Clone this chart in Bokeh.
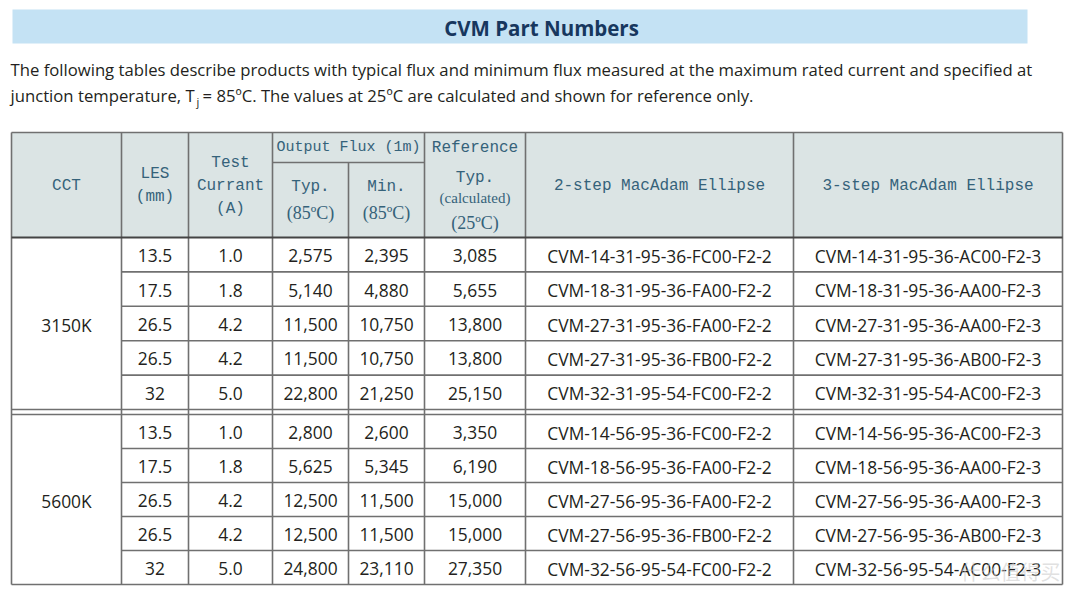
from bokeh.plotting import figure
from bokeh.models import ColumnDataSource
from bokeh.core.properties import value
from bokeh.embed import file_html
from bokeh.resources import INLINE

# ---------------- data ----------------
title = "CVM Part Numbers"
intro_line1 = ("The following tables describe products with typical flux and minimum flux "
               "measured at the maximum rated current and specified at")
intro_line2a = "junction temperature, T"
intro_sub = "j"
intro_line2b = "= 85ºC. The values at 25ºC are calculated and shown for reference only."

cct_groups = ["3150K", "5600K"]
les_mm = ["13.5", "17.5", "26.5", "26.5", "32", "13.5", "17.5", "26.5", "26.5", "32"]
test_current = ["1.0", "1.8", "4.2", "4.2", "5.0", "1.0", "1.8", "4.2", "4.2", "5.0"]
typ_85 = [2575, 5140, 11500, 11500, 22800, 2800, 5625, 12500, 12500, 24800]
min_85 = [2395, 4880, 10750, 10750, 21250, 2600, 5345, 11500, 11500, 23110]
typ_25 = [3085, 5655, 13800, 13800, 25150, 3350, 6190, 15000, 15000, 27350]
part_2step = [
    "CVM-14-31-95-36-FC00-F2-2", "CVM-18-31-95-36-FA00-F2-2", "CVM-27-31-95-36-FA00-F2-2",
    "CVM-27-31-95-36-FB00-F2-2", "CVM-32-31-95-54-FC00-F2-2",
    "CVM-14-56-95-36-FC00-F2-2", "CVM-18-56-95-36-FA00-F2-2", "CVM-27-56-95-36-FA00-F2-2",
    "CVM-27-56-95-36-FB00-F2-2", "CVM-32-56-95-54-FC00-F2-2",
]
part_3step = [
    "CVM-14-31-95-36-AC00-F2-3", "CVM-18-31-95-36-AA00-F2-3", "CVM-27-31-95-36-AA00-F2-3",
    "CVM-27-31-95-36-AB00-F2-3", "CVM-32-31-95-54-AC00-F2-3",
    "CVM-14-56-95-36-AC00-F2-3", "CVM-18-56-95-36-AA00-F2-3", "CVM-27-56-95-36-AA00-F2-3",
    "CVM-27-56-95-36-AB00-F2-3", "CVM-32-56-95-54-AC00-F2-3",
]

# ---------------- layout ----------------
W, H = 1064, 586
p = figure(width=W, height=H, x_range=(0, W), y_range=(H, 0),
           output_backend="svg", toolbar_location=None, min_border=0)
p.axis.visible = False
p.grid.visible = False
p.outline_line_color = None
p.background_fill_color = "white"
p.border_fill_color = "white"

SANS = value("Open Sans")
MONO = value("Liberation Mono")
SERIF = value("Liberation Serif")
HDR_COL = "#35627a"
TXT_COL = "#231f20"

# title band
p.quad(left=[12], right=[1027], top=[9], bottom=[43], fill_color="#c4e2f4", line_color=None)
p.text(x=[541], y=[27], text=[title], text_font=SANS, text_font_style="bold",
       text_font_size="20.5px", text_color="#17375e", text_align="center", text_baseline="middle")

# intro paragraph
p.text(x=[10], y=[69], text=[intro_line1], text_font=SANS, text_font_size="16.7px",
       text_color=TXT_COL, text_align="left", text_baseline="middle")
p.text(x=[10], y=[95], text=[intro_line2a], text_font=SANS, text_font_size="16.7px",
       text_color=TXT_COL, text_align="left", text_baseline="middle")
p.text(x=[196], y=[101], text=[intro_sub], text_font=SANS, text_font_size="11px",
       text_color=TXT_COL, text_align="left", text_baseline="middle")
p.text(x=[202], y=[95], text=[intro_line2b], text_font=SANS, text_font_size="16.7px",
       text_color=TXT_COL, text_align="left", text_baseline="middle")

# table geometry
cols = [11, 121, 188, 272, 348, 424, 525, 793, 1062]
h_top, h_mid, h_bot = 132, 162, 237
g_tops = [237, 414]
g_bots = [409, 584]
n_per = 5

p.quad(left=[cols[0]], right=[cols[-1]], top=[h_top], bottom=[h_bot],
       fill_color="#dbe4e4", line_color=None)

def cx(i):
    return (cols[i] + cols[i + 1]) / 2

for x, y, t in [(cx(0), 185, "CCT"), (cx(1), 173, "LES"), (cx(1), 196, "(mm)"),
                (cx(2), 162, "Test"), (cx(2), 185, "Currant"), (cx(2), 208, "(A)"),
                (cx(5), 147, "Reference"), (cx(3), 186, "Typ."), (cx(4), 186, "Min."),
                (cx(5), 177, "Typ."),
                (cx(6), 185, "2-step MacAdam Ellipse"), (cx(7), 185, "3-step MacAdam Ellipse")]:
    p.text(x=[x], y=[y], text=[t], text_font=MONO, text_font_size="16px", text_color=HDR_COL,
           text_align="center", text_baseline="middle")
p.text(x=[(cols[3] + cols[5]) / 2], y=[147], text=["Output Flux (1m)"], text_font=MONO,
       text_font_size="15px", text_color=HDR_COL, text_align="center", text_baseline="middle")
for x, y, t, s in [(cx(3), 212, "(85ºC)", "18px"), (cx(4), 212, "(85ºC)", "18px"),
                   (cx(5), 197, "(calculated)", "15px"), (cx(5), 222, "(25ºC)", "18px")]:
    p.text(x=[x], y=[y], text=[t], text_font=SERIF, text_font_size=s, text_color=HDR_COL,
           text_align="center", text_baseline="middle")

# body rows
row_y, row_top = [], []
for g in range(2):
    rh = (g_bots[g] - g_tops[g]) / n_per
    for r in range(n_per):
        row_top.append(g_tops[g] + r * rh)
        row_y.append(g_tops[g] + (r + 0.5) * rh + 1)

fmt = lambda v: f"{v:,}"
body = ColumnDataSource(dict(
    y=row_y, les=les_mm, cur=test_current,
    t85=[fmt(v) for v in typ_85], m85=[fmt(v) for v in min_85], t25=[fmt(v) for v in typ_25],
    p2=part_2step, p3=part_3step))
for i, field in enumerate(["les", "cur", "t85", "m85", "t25", "p2", "p3"]):
    p.text(x=cx(i + 1), y="y", text=field, source=body, text_font=SANS, text_font_size="17.4px",
           text_color=TXT_COL, text_align="center", text_baseline="middle")

p.text(x=[cx(0)] * 2, y=[(g_tops[g] + g_bots[g]) / 2 + 1 for g in range(2)], text=cct_groups,
       text_font=SANS, text_font_size="17.4px", text_color=TXT_COL,
       text_align="center", text_baseline="middle")

# grid lines
LC = "#707070"
x0, y0, x1, y1 = [], [], [], []
for y in [h_top, g_bots[0], g_tops[1], g_bots[1]]:
    x0.append(cols[0]); x1.append(cols[-1]); y0.append(y); y1.append(y)
x0.append(cols[3]); x1.append(cols[5]); y0.append(h_mid); y1.append(h_mid)
for g in range(2):
    for r in range(1, n_per):
        y = row_top[g * n_per + r]
        x0.append(cols[1]); x1.append(cols[-1]); y0.append(y); y1.append(y)
for i, c in enumerate(cols):
    top = h_mid if i == 4 else h_top
    x0.append(c); x1.append(c); y0.append(top); y1.append(g_bots[1])
p.segment(x0=x0, y0=y0, x1=x1, y1=y1, line_color=LC, line_width=1.6)
p.segment(x0=[cols[0]], y0=[h_bot], x1=[cols[-1]], y1=[h_bot], line_color="#444444", line_width=2.2)

# watermark
p.text(x=[1060], y=[571], text=["什么值得买"], text_font=value("Noto Sans CJK SC"),
       text_font_size="20px", text_color="#c8c8c8", text_alpha=0.55,
       text_align="right", text_baseline="middle")

open("out.html", "w").write(file_html(p, INLINE))
